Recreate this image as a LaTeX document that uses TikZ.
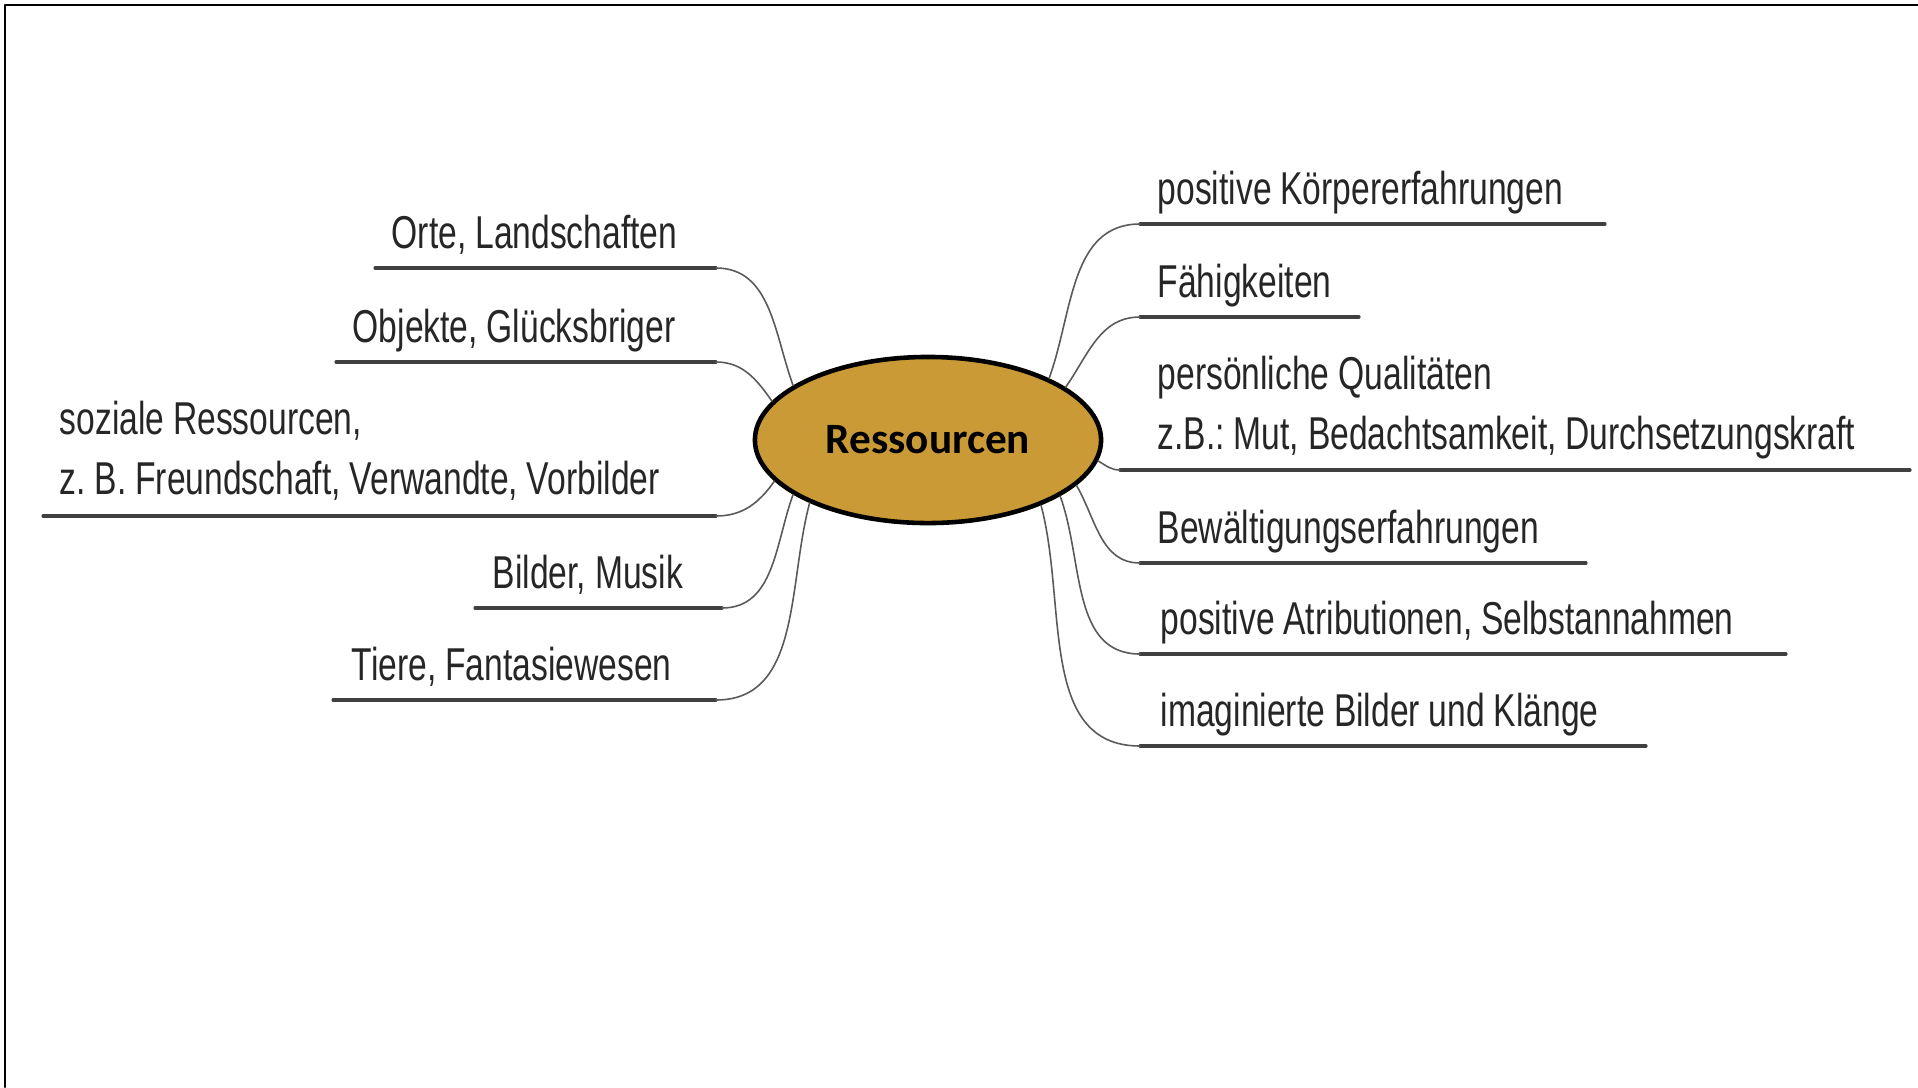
\documentclass[tikz,border=0pt]{standalone}
\usepackage{fontspec}
\setmainfont{Liberation Sans}
\newfontfamily\narrowsans[FakeStretch=0.73, WordSpace=0.95]{Liberation Sans}
\newfontfamily\labelsans{Carlito}
\usetikzlibrary{shapes.geometric}
\definecolor{resgold}{HTML}{C99A35}
\tikzset{
	leaf/.style={anchor=base west, inner sep=0pt, align=left, text=black!85,
		font=\narrowsans\fontsize{13.1}{17}\selectfont\frenchspacing},
	uline/.style={line width=0.9pt, draw=black!75},
	branch/.style={line width=0.45pt, draw=black!65},
	resnode/.style={ellipse, draw=black, line width=1.3pt, fill=resgold,
		minimum width=3.46cm, minimum height=1.66cm, inner sep=0pt,
		font=\labelsans\bfseries\fontsize{12.3}{15}\selectfont}
}
\begin{document}
\begin{tikzpicture}[x=0.01cm, y=-0.01cm, line join=round, line cap=round]
			\useasboundingbox (0,0) rectangle (1918,1087);
			\draw[line width=0.6pt] (5,1087) -- (5,5) -- (1918,5);
			\node[resnode] (res) at (928,440) {Ressourcen};
			% left side
			\coordinate (orte-a)    at (375,268);
			\coordinate (orte-b)    at (716,268);
			\coordinate (objekte-a) at (336,362);
			\coordinate (objekte-b) at (716,362);
			\coordinate (sozial-a)  at (43,516);
			\coordinate (sozial-b)  at (716,516);
			\coordinate (bilder-a)  at (475,608);
			\coordinate (bilder-b)  at (722,608);
			\coordinate (tiere-a)   at (333,700);
			\coordinate (tiere-b)   at (716,700);
			\draw[uline] (orte-a) -- (orte-b)  (objekte-a) -- (objekte-b)
			(sozial-a) -- (sozial-b)  (bilder-a) -- (bilder-b)  (tiere-a) -- (tiere-b);
			\draw[branch] (orte-b) to[out=0, in=110] (res.158);
			\draw[branch] (objekte-b) to[out=0, in=125] (res.166);
			\draw[branch] (sozial-b) to[out=0, in=235] (res.195);
			\draw[branch] (bilder-b) to[out=0, in=250] (res.202);
			\draw[branch] (tiere-b) to[out=0, in=255] (res.208);
			\node[leaf] (orte) at (391,248) {Orte, Landschaften};
			\node[leaf] (objekte) at (352,342) {Objekte, Glücksbriger};
			\node[leaf] (sozial) at (59,494) {soziale Ressourcen,\\z. B. Freundschaft, Verwandte, Vorbilder};
			\node[leaf] (bilder) at (492,588) {Bilder, Musik};
			\node[leaf] (tiere) at (351,680) {Tiere, Fantasiewesen};
			% right side
			\coordinate (koerper-a) at (1140,224);
			\coordinate (koerper-b) at (1605,224);
			\coordinate (faehig-a)  at (1140,317);
			\coordinate (faehig-b)  at (1359,317);
			\coordinate (qualit-a)  at (1120,470);
			\coordinate (qualit-b)  at (1910,470);
			\coordinate (bewaelt-a) at (1140,563);
			\coordinate (bewaelt-b) at (1586,563);
			\coordinate (attrib-a)  at (1140,654);
			\coordinate (attrib-b)  at (1786,654);
			\coordinate (imagin-a)  at (1140,746);
			\coordinate (imagin-b)  at (1646,746);
			\draw[uline] (koerper-a) -- (koerper-b)  (faehig-a) -- (faehig-b)
			(qualit-a) -- (qualit-b)  (bewaelt-a) -- (bewaelt-b)
			(attrib-a) -- (attrib-b)  (imagin-a) -- (imagin-b);
			\draw[branch] (koerper-a) to[out=180, in=70] (res.27);
			\draw[branch] (faehig-a) to[out=180, in=55] (res.21);
			\draw[branch] (qualit-a) to[out=180, in=-30] (res.353);
			\draw[branch] (bewaelt-a) to[out=180, in=-60] (res.343);
			\draw[branch] (attrib-a) to[out=180, in=-70] (res.337);
			\draw[branch] (imagin-a) to[out=180, in=-75] (res.330);
			\node[leaf] (koerper) at (1157,204) {positive Körpererfahrungen};
			\node[leaf] (faehig) at (1157,297) {Fähigkeiten};
			\node[leaf] (qualit) at (1157,449) {persönliche Qualitäten\\z.B.: Mut, Bedachtsamkeit, Durchsetzungskraft};
			\node[leaf] (bewaelt) at (1157,543) {Bewältigungserfahrungen};
			\node[leaf] (attrib) at (1160,634) {positive Atributionen, Selbstannahmen};
			\node[leaf] (imagin) at (1160,726) {imaginierte Bilder und Klänge};
		\end{tikzpicture}
\end{document}
